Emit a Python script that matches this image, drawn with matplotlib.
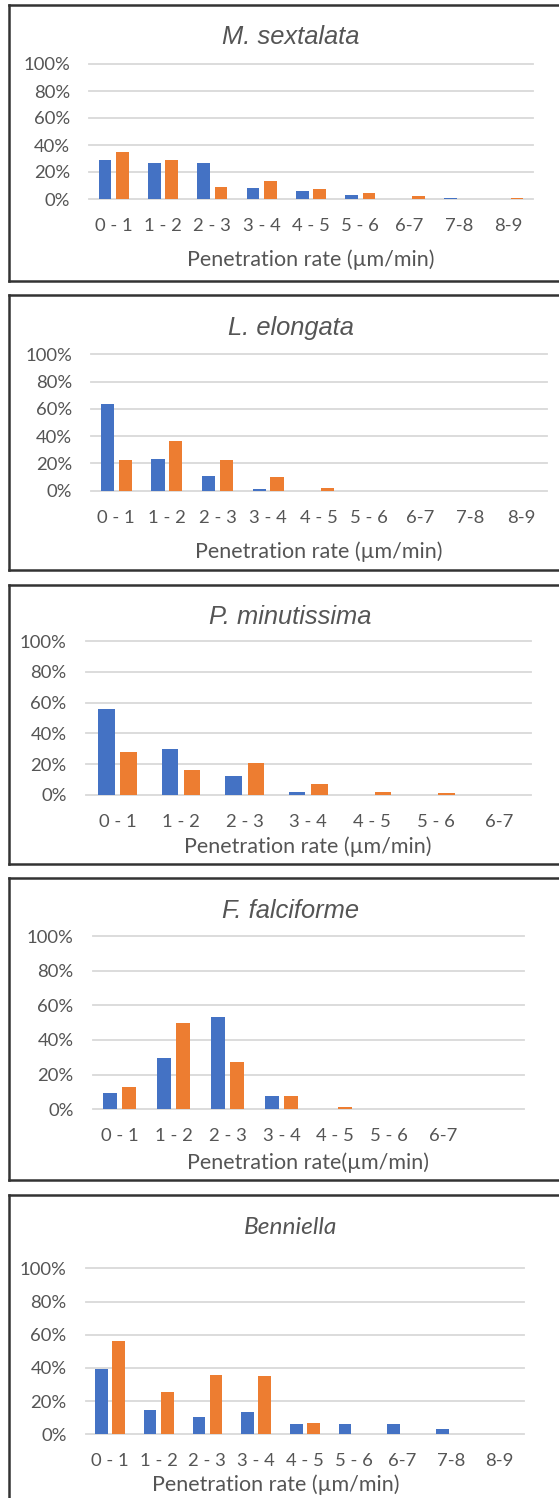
import matplotlib
matplotlib.use("Agg")
import matplotlib.pyplot as plt
from matplotlib.lines import Line2D
import numpy as np

# ---------------- data ----------------
cats9 = ["0 - 1", "1 - 2", "2 - 3", "3 - 4", "4 - 5", "5 - 6", "6-7", "7-8", "8-9"]
cats7 = ["0 - 1", "1 - 2", "2 - 3", "3 - 4", "4 - 5", "5 - 6", "6-7"]
cats8 = ["0 - 1", "1 - 2", "2 - 3", "3 - 4", "4 - 5", "5 - 6", "6-7", ""]

titles = ["M. sextalata", "L. elongata", "P. minutissima", "F. falciforme", "Benniella"]
xlabels = ["Penetration rate (µm/min)", "Penetration rate (µm/min)",
           "Penetration rate (µm/min)", "Penetration rate(µm/min)",
           "Penetration rate (µm/min)"]

m_sext_blue = [28.8, 26.4, 26.4, 7.9, 5.7, 3.0, 0, 1.0, 0]
m_sext_orange = [34.5, 28.8, 8.6, 13.0, 7.6, 4.4, 2.2, 0, 1.0]
l_elong_blue = [63.8, 23.2, 10.8, 1.5, 0, 0, 0, 0, 0]
l_elong_orange = [22.7, 36.2, 22.7, 10.3, 1.7, 0, 0, 0, 0]
p_min_blue = [55.9, 29.6, 12.4, 2.0, 0, 0, 0]
p_min_orange = [27.8, 16.1, 20.7, 7.0, 1.5, 0.9, 0]
f_falc_blue = [9.2, 29.4, 53.1, 7.7, 0, 0, 0, 0]
f_falc_orange = [12.7, 49.6, 27.5, 7.7, 1.5, 0, 0, 0]
benn_blue = [39.2, 14.5, 10.2, 13.3, 6.4, 6.0, 6.4, 3.2, 0]
benn_orange = [56.2, 25.7, 35.7, 35.3, 7.0, 0, 0, 0, 0]

yticks = [0, 20, 40, 60, 80, 100]
ytick_labels = ["0%", "20%", "40%", "60%", "80%", "100%"]

# ---------------- layout (pixels) ----------------
W, H = 559, 1498
DPI = 100
BLUE = "#4472C4"
ORANGE = "#ED7D31"
GRID = "#D9D9D9"
TXT = "#555555"

panels = [
    dict(cats=cats9, b=m_sext_blue, o=m_sext_orange, x0=89, x1=533, yt=64, yb=199,
         title_xy=(290.5, 37), xl_xy=(311, 260), box=(5, 281)),
    dict(cats=cats9, b=l_elong_blue, o=l_elong_orange, x0=91, x1=546.5, yt=354.3, yb=490.7,
         title_xy=(290.5, 328), xl_xy=(318.5, 552), box=(295, 570)),
    dict(cats=cats7, b=p_min_blue, o=p_min_orange, x0=85.6, x1=531, yt=641.3, yb=794.7,
         title_xy=(290.5, 617), xl_xy=(308, 847), box=(585, 864)),
    dict(cats=cats8, b=f_falc_blue, o=f_falc_orange, x0=92.7, x1=524, yt=936, yb=1109.3,
         title_xy=(290.5, 911), xl_xy=(308, 1163), box=(878, 1180)),
    dict(cats=cats9, b=benn_blue, o=benn_orange, x0=85.6, x1=524, yt=1268.3, yb=1434.3,
         title_xy=(290.5, 1228), xl_xy=(276, 1485), box=(1195, 1520)),
]

def px2pt(p):
    return p * 72.0 / DPI

fig = plt.figure(figsize=(W / DPI, H / DPI), dpi=DPI)
fig.patch.set_facecolor("white")

TICK_FONT = "Lato"
TICK_SIZE = px2pt(18.5)

for i, p in enumerate(panels):
    ax = fig.add_axes([p["x0"] / W, 1 - p["yb"] / H, (p["x1"] - p["x0"]) / W, (p["yb"] - p["yt"]) / H])
    n = len(p["cats"])
    x = np.arange(n)
    w = 0.26
    off = 0.175
    ax.bar(x - off, p["b"], width=w, color=BLUE, zorder=3)
    ax.bar(x + off, p["o"], width=w, color=ORANGE, zorder=3)
    ax.set_xlim(-0.5, n - 0.5)
    ax.set_ylim(0, 100)
    ax.set_yticks(yticks)
    ax.set_yticklabels(ytick_labels)
    ax.set_xticks(x)
    ax.set_xticklabels(p["cats"])
    for s in ax.spines.values():
        s.set_visible(False)
    ax.set_facecolor("none")
    ax.grid(axis="y", color=GRID, linewidth=1.3, zorder=0)
    ax.set_axisbelow(True)
    ax.tick_params(axis="both", length=0, labelsize=TICK_SIZE, labelcolor=TXT)
    ax.tick_params(axis="y", pad=px2pt(19))
    ax.tick_params(axis="x", pad=px2pt(19))
    for lab in ax.get_xticklabels() + ax.get_yticklabels():
        lab.set_family(TICK_FONT)
    for gl in ax.get_ygridlines():
        gl.set_clip_on(False)

    # title
    tx, ty = p["title_xy"]
    if i < 4:
        fig.text(tx / W, 1 - ty / H, titles[i], ha="center", va="center",
                 family="Liberation Sans", style="italic", fontsize=px2pt(25.5), color=TXT)
    else:
        fig.text(tx / W, 1 - ty / H, titles[i], ha="center", va="center",
                 family="Lato", style="italic", fontsize=px2pt(24.5), color=TXT)
    # x label
    lx, ly = p["xl_xy"]
    fig.text(lx / W, 1 - ly / H, xlabels[i], ha="center", va="center",
             family=TICK_FONT, fontsize=px2pt(21.5), color=TXT)

    # border box (extends past right edge)
    bt, bb = p["box"]
    bx0, bx1 = 8.5, 575
    for (xa, ya, xb, yb) in [(bx0, bt, bx1, bt), (bx0, bb, bx1, bb), (bx0, bt, bx0, bb)]:
        fig.add_artist(Line2D([xa / W, xb / W], [1 - ya / H, 1 - yb / H],
                              transform=fig.transFigure, color="#333333", linewidth=1.8))

fig.savefig("out.png", dpi=DPI, facecolor="white")
